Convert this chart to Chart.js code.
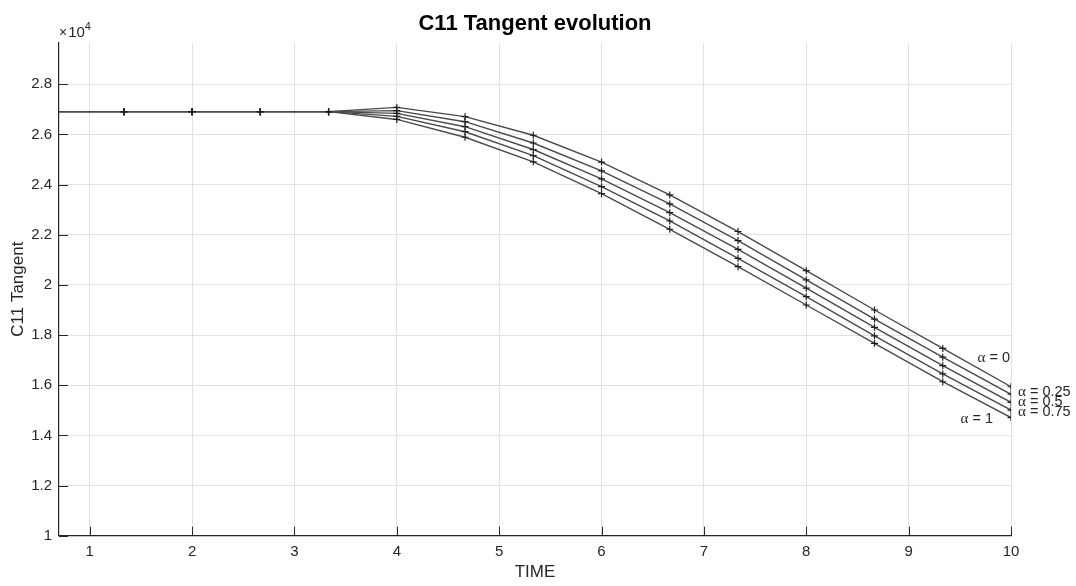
<!DOCTYPE html>
<html>
<head>
<meta charset="utf-8">
<title>C11 Tangent evolution</title>
<script src="https://cdn.jsdelivr.net/npm/chart.js@4.4.1/dist/chart.umd.min.js"></script>
<style>
  html, body { margin: 0; padding: 0; background: #ffffff; }
  #wrap { width: 1076px; height: 586px; }
</style>
</head>
<body>
<div id="wrap"><canvas id="c" width="1076" height="586"></canvas></div>
<script>
// Time steps of the simulation
const times = [0.6667, 1.3333, 2, 2.6667, 3.3333, 4, 4.6667, 5.3333, 6, 6.6667, 7.3333, 8, 8.6667, 9.3333, 10];

// C11 tangent modulus for each alpha value
const seriesNames = ['\u03b1 = 0', '\u03b1 = 0.25', '\u03b1 = 0.5', '\u03b1 = 0.75', '\u03b1 = 1'];
const alpha0   = [26910, 26910, 26910, 26910, 26910, 27080, 26710, 25970, 24900, 23590, 22130, 20570, 19000, 17470, 15940];
const alpha025 = [26910, 26910, 26910, 26910, 26910, 26950, 26510, 25660, 24550, 23230, 21770, 20200, 18640, 17120, 15640];
const alpha05  = [26910, 26910, 26910, 26910, 26910, 26840, 26310, 25400, 24230, 22880, 21420, 19870, 18310, 16780, 15320];
const alpha075 = [26910, 26910, 26910, 26910, 26910, 26720, 26110, 25160, 23920, 22550, 21060, 19530, 17970, 16450, 15010];
const alpha1   = [26910, 26910, 26910, 26910, 26910, 26600, 25890, 24910, 23640, 22220, 20730, 19200, 17670, 16140, 14710];

// Tick values
const xTicks = [1, 2, 3, 4, 5, 6, 7, 8, 9, 10];
const yTicks = [10000, 12000, 14000, 16000, 18000, 20000, 22000, 24000, 26000, 28000];

const chartTitle = 'C11 Tangent evolution';
const allSeries = [alpha0, alpha025, alpha05, alpha075, alpha1];
const FONT = '"Liberation Sans", Arial, Helvetica, sans-serif';
const AXIS_COLOR = '#262626';

const datasets = allSeries.map((vals, i) => ({
  label: seriesNames[i],
  data: vals.map((v, k) => ({ x: times[k], y: v })),
  borderColor: '#4a4a4a',
  borderWidth: 1.4,
  pointStyle: 'cross',
  pointRadius: 3.5,
  pointBorderColor: '#1e1e1e',
  pointBorderWidth: 1.2,
  pointBackgroundColor: '#1e1e1e',
  showLine: true,
  tension: 0,
  clip: 0
}));

// Title centred over the plot area, inward tick marks and the exponent marker
const axesDecor = {
  id: 'axesDecor',
  afterDraw(chart) {
    const { ctx, chartArea: a, scales: { x, y } } = chart;
    ctx.save();
    ctx.strokeStyle = AXIS_COLOR;
    ctx.lineWidth = 1;
    ctx.beginPath();
    xTicks.forEach(v => {
      const px = Math.round(x.getPixelForValue(v)) + 0.5;
      ctx.moveTo(px, a.bottom);
      ctx.lineTo(px, a.bottom - 9);
    });
    yTicks.forEach(v => {
      const py = Math.round(y.getPixelForValue(v)) + 0.5;
      ctx.moveTo(a.left, py);
      ctx.lineTo(a.left + 9, py);
    });
    ctx.stroke();

    // title
    ctx.fillStyle = '#000000';
    ctx.font = 'bold 22px ' + FONT;
    ctx.textAlign = 'center';
    ctx.textBaseline = 'alphabetic';
    ctx.fillText(chartTitle, (a.left + a.right) / 2, 30);

    // exponent marker above the y axis
    ctx.fillStyle = AXIS_COLOR;
    ctx.textAlign = 'left';
    ctx.font = '14px ' + FONT;
    ctx.fillText('\u00d7', a.left, a.top - 6);
    const w1 = ctx.measureText('\u00d7').width;
    ctx.font = '15px ' + FONT;
    ctx.fillText('10', a.left + w1 + 1, a.top - 6);
    const w2 = ctx.measureText('10').width;
    ctx.font = '11px ' + FONT;
    ctx.fillText('4', a.left + w1 + 1 + w2, a.top - 13);
    ctx.restore();
  }
};

// Series labels placed next to the final point of each curve
const seriesLabels = {
  id: 'seriesLabels',
  afterDatasetsDraw(chart) {
    const { ctx } = chart;
    // [dx, dy, align] relative to the last point of each series
    const place = [[-1, -29, 'right'], [7, -2, 'left'], [7, 0, 'left'], [7, 2, 'left'], [-18, 1, 'right']];
    const headFont = '15px "Liberation Serif", "DejaVu Serif", serif';
    const restFont = '14.5px ' + FONT;
    ctx.save();
    ctx.fillStyle = AXIS_COLOR;
    ctx.textBaseline = 'middle';
    ctx.textAlign = 'left';
    chart.data.datasets.forEach((ds, i) => {
      const meta = chart.getDatasetMeta(i);
      const pt = meta.data[meta.data.length - 1];
      const [dx, dy, align] = place[i];
      const label = seriesNames[i];
      const head = label.charAt(0);
      const rest = label.slice(1);
      ctx.font = headFont;
      const wh = ctx.measureText(head).width;
      ctx.font = restFont;
      const wr = ctx.measureText(rest).width;
      let x0 = pt.x + dx;
      if (align === 'right') x0 -= (wh + wr);
      const y0 = pt.y + dy;
      ctx.font = headFont;
      ctx.fillText(head, x0, y0);
      ctx.font = restFont;
      ctx.fillText(rest, x0 + wh, y0);
    });
    ctx.restore();
  }
};

new Chart(document.getElementById('c'), {
  type: 'scatter',
  data: { datasets },
  plugins: [axesDecor, seriesLabels],
  options: {
    responsive: false,
    devicePixelRatio: 1,
    animation: false,
    layout: { padding: { left: 0, right: 65, top: 42.7, bottom: 0 } },
    plugins: {
      legend: { display: false },
      tooltip: { enabled: false },
      title: { display: false }
    },
    scales: {
      x: {
        type: 'linear',
        min: 0.7,
        max: 10,
        afterBuildTicks: s => { s.ticks = xTicks.map(v => ({ value: v })); },
        afterFit: s => { s.height = 50.3; },
        grid: { color: '#e2e2e2', lineWidth: 1, drawTicks: false },
        border: { color: AXIS_COLOR, width: 1.2 },
        ticks: {
          color: AXIS_COLOR,
          font: { family: FONT, size: 15 },
          padding: 7,
          maxRotation: 0,
          callback: v => String(v)
        },
        title: {
          display: true,
          text: 'TIME',
          color: AXIS_COLOR,
          font: { family: FONT, size: 17 },
          padding: { top: 0, bottom: 3 }
        }
      },
      y: {
        type: 'linear',
        min: 10000,
        max: 29660,
        afterBuildTicks: s => { s.ticks = yTicks.map(v => ({ value: v })); },
        afterFit: s => { s.width = 59; },
        grid: { color: '#e2e2e2', lineWidth: 1, drawTicks: false },
        border: { color: AXIS_COLOR, width: 1.2 },
        ticks: {
          color: AXIS_COLOR,
          font: { family: FONT, size: 15 },
          padding: 7,
          callback: v => String(Math.round(v / 1000) / 10)
        },
        title: {
          display: true,
          text: 'C11 Tangent',
          color: AXIS_COLOR,
          font: { family: FONT, size: 17 },
          padding: { top: 8, bottom: 0 }
        }
      }
    }
  }
});
</script>
</body>
</html>
